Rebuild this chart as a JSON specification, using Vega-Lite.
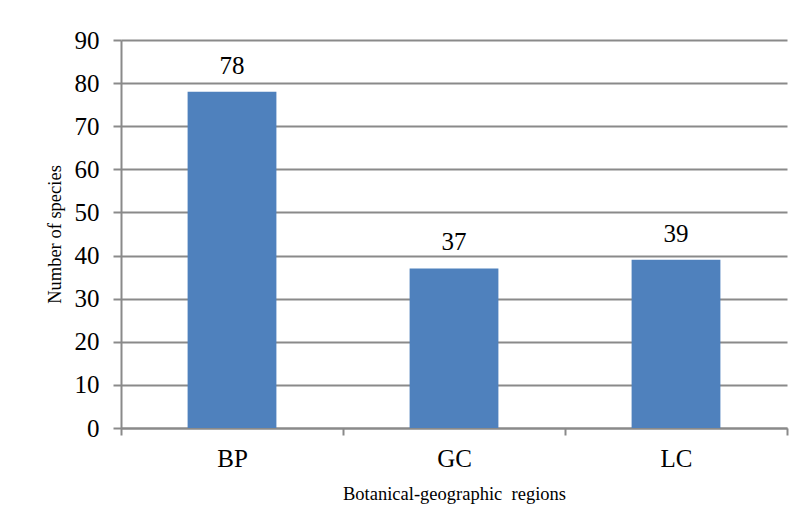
{
  "$schema": "https://vega.github.io/schema/vega-lite/v6.json",
  "autosize": {"type": "none"},
  "padding": {"left": 121, "top": 40, "right": 21, "bottom": 104},
  "width": 666,
  "height": 388,
  "background": "white",
  "config": {
    "view": {"stroke": null},
    "font": "Liberation Serif"
  },
  "data": {
    "values": [
      {"region": "BP", "species": 78},
      {"region": "GC", "species": 37},
      {"region": "LC", "species": 39}
    ]
  },
  "encoding": {
    "x": {
      "field": "region",
      "type": "nominal",
      "sort": null,
      "scale": {"paddingInner": 0, "paddingOuter": 0},
      "axis": {
        "title": "Botanical-geographic\u00a0 regions",
        "titleFont": "Liberation Serif",
        "titleFontSize": 18.5,
        "titleFontWeight": "normal",
        "titleColor": "#000000",
        "titleY": 71,
        "titleBaseline": "alphabetic",
        "labelAngle": 0,
        "labelFont": "Liberation Serif",
        "labelFontSize": 25,
        "labelColor": "#000000",
        "labelBaseline": "top",
        "labelPadding": 11,
        "tickBand": "extent",
        "tickSize": 7,
        "tickWidth": 2,
        "tickColor": "#8a8a8a",
        "domainColor": "#8a8a8a",
        "domainWidth": 2,
        "grid": false
      }
    },
    "y": {
      "field": "species",
      "type": "quantitative",
      "scale": {"domain": [0, 90]},
      "axis": {
        "values": [0, 10, 20, 30, 40, 50, 60, 70, 80, 90],
        "title": "Number of species",
        "titleFont": "Liberation Serif",
        "titleFontSize": 18.5,
        "titleFontWeight": "normal",
        "titleColor": "#000000",
        "titleX": -67,
        "titleY": 194,
        "titleAngle": -90,
        "titleAlign": "center",
        "titleBaseline": "middle",
        "labelFont": "Liberation Serif",
        "labelFontSize": 25,
        "labelColor": "#000000",
        "labelPadding": 14,
        "tickSize": 8,
        "tickWidth": 2,
        "tickColor": "#8a8a8a",
        "domainColor": "#8a8a8a",
        "domainWidth": 2,
        "grid": true,
        "gridColor": "#8a8a8a",
        "gridWidth": 2
      }
    }
  },
  "layer": [
    {"mark": {"type": "bar", "color": "#4F81BD", "width": {"band": 0.4}}},
    {
      "mark": {"type": "text", "baseline": "alphabetic", "dy": -18, "fontSize": 25, "font": "Liberation Serif", "color": "#000000"},
      "encoding": {"text": {"field": "species", "type": "quantitative"}}
    }
  ]
}
